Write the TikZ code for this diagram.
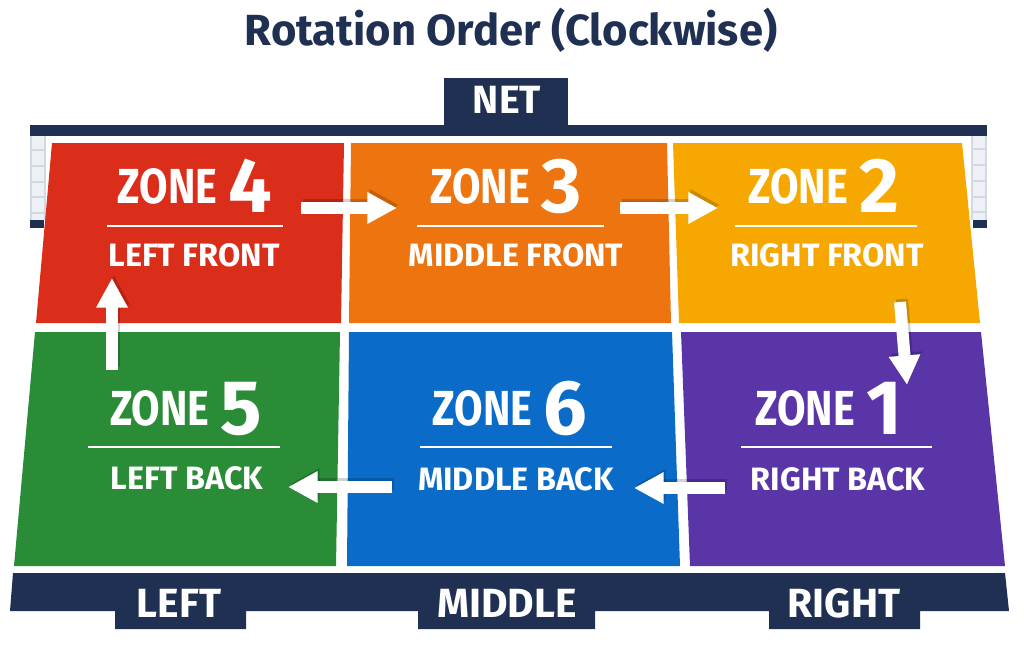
\documentclass[tikz,border=0pt]{standalone}
\usepackage{fontspec}
\setmainfont{Fira Sans}
\newfontfamily\zonefont{Fira Sans}[FakeStretch=0.84]
\usetikzlibrary{arrows.meta, calc}
\definecolor{navy}{HTML}{1F3052}
\definecolor{meshgrey}{HTML}{D3D9E3}
\definecolor{zred}{HTML}{DA2E1B}
\definecolor{zorange}{HTML}{EE7410}
\definecolor{zyellow}{HTML}{F6A800}
\definecolor{zgreen}{HTML}{2A8C37}
\definecolor{zblue}{HTML}{0A6CC8}
\definecolor{zpurple}{HTML}{5935A8}
\tikzset{%
  zonetitle/.style={text=white, font=\bfseries, anchor=base, inner sep=0pt},
  zonename/.style={text=white, font=\bfseries\fontsize{23}{23}\selectfont, anchor=base, inner sep=0pt},
  rule/.style={white, line width=1.1pt},
  rotarrow/.style={white, line width=8.5pt, -{Triangle[length=21pt, width=21pt]}},
  rotshadow/.style={black, opacity=.18, line width=8.5pt, -{Triangle[length=21pt, width=21pt]},
              transform canvas={shift={(2,-3)}}},
  sidelabel/.style={text=white, font=\bfseries\fontsize{29}{29}\selectfont, anchor=base, inner sep=0pt},
}
\newcommand{\zonetext}[1]{{\zonefont\fontsize{35}{35}\selectfont ZONE}\hspace{8pt}\raisebox{-6.5pt}{\fontsize{55}{55}\selectfont #1}}

\begin{document}
\begin{tikzpicture}[x=0.025cm, y=-0.025cm]
    \useasboundingbox (0,0) rectangle (1024,644);

    % title and net
    \node[text=navy, font=\bfseries\fontsize{31}{31}\selectfont, anchor=base] (title) at (511,46) {Rotation Order (Clockwise)};
    \fill[meshgrey!40] (30,136) rectangle (45,220);
    \fill[meshgrey!40] (972,136) rectangle (987,220);
    \draw[meshgrey, line width=1pt] (31,136) -- (31,220) (45,136) -- (45,220)
        (31,150) -- (45,150) (31,166) -- (45,166) (31,182) -- (45,182) (31,197) -- (45,197) (31,213) -- (45,213)
        (972,136) -- (972,220) (986,136) -- (986,220)
        (972,149) -- (986,149) (972,165) -- (986,165) (972,181) -- (986,181) (972,197) -- (986,197) (972,212) -- (986,212);
    \fill[navy] (30,220) rectangle (44,228);
    \fill[navy] (973,220) rectangle (987,228);
    \fill[navy] (30,125) rectangle (987,136);
    \fill[navy] (444,78) rectangle (568,126);
    \node[text=white, font=\bfseries\fontsize{28}{28}\selectfont, inner sep=0pt] (net) at (507,100) {NET};

    % front row
    \fill[zred] (52,143) -- (344,143) -- (341,323) -- (36,323) -- cycle;
    \fill[zorange] (351,143) -- (667,143) -- (671,323) -- (349,323) -- cycle;
    \fill[zyellow] (673,143) -- (962,143) -- (980,323) -- (679,323) -- cycle;
    % back row
    \fill[zgreen] (35,332) -- (340,332) -- (336,566) -- (14,566) -- cycle;
    \fill[zblue] (349,332) -- (672,332) -- (680,566) -- (347,566) -- cycle;
    \fill[zpurple] (681,332) -- (981,332) -- (1005,566) -- (690,566) -- cycle;

    % zone texts
    \node[zonetitle] (z4) at (195,203) {\zonetext{4}};
    \node[zonetitle] (z3) at (506,203) {\zonetext{3}};
    \node[zonetitle] (z2) at (824,203) {\zonetext{2}};
    \node[zonetitle] (z5) at (186,425) {\zonetext{5}};
    \node[zonetitle] (z6) at (510,425) {\zonetext{6}};
    \node[zonetitle] (z1) at (829,425) {\zonetext{1}};

    \draw[rule] (107,226) -- (283,226);
    \draw[rule] (417,226) -- (604,226);
    \draw[rule] (735,226) -- (917,226);
    \draw[rule] (88,447) -- (280,447);
    \draw[rule] (420,447) -- (612,447);
    \draw[rule] (741,447) -- (932,447);

    \node[zonename] (n4) at (194,266) {LEFT FRONT};
    \node[zonename] (n3) at (516,266) {MIDDLE FRONT};
    \node[zonename] (n2) at (827,266) {RIGHT FRONT};
    \node[zonename] (n5) at (187,489) {LEFT BACK};
    \node[zonename] (n6) at (516,490) {MIDDLE BACK};
    \node[zonename] (n1) at (838,490) {RIGHT BACK};

    % rotation arrows
    \coordinate (a4s) at (301,208);
    \coordinate (a4e) at (397,208);
    \coordinate (a3s) at (620,208);
    \coordinate (a3e) at (718,208);
    \coordinate (a2s) at (900,302);
    \coordinate (a2e) at (907,385);
    \coordinate (a1s) at (725,488);
    \coordinate (a1e) at (634,488);
    \coordinate (a6s) at (392,487);
    \coordinate (a6e) at (288,487);
    \coordinate (a5s) at (112,370);
    \coordinate (a5e) at (112,278);

    \draw[rotshadow] (a4s) -- (a4e);
    \draw[rotshadow] (a3s) -- (a3e);
    \draw[rotshadow] (a2s) -- (a2e);
    \draw[rotshadow] (a1s) -- (a1e);
    \draw[rotshadow] (a6s) -- (a6e);
    \draw[rotshadow] (a5s) -- (a5e);
    \draw[rotarrow] (a4s) -- (a4e);
    \draw[rotarrow] (a3s) -- (a3e);
    \draw[rotarrow] (a2s) -- (a2e);
    \draw[rotarrow] (a1s) -- (a1e);
    \draw[rotarrow] (a6s) -- (a6e);
    \draw[rotarrow] (a5s) -- (a5e);

    % side labels
    \fill[navy] (13,573) -- (1005,573) -- (1009,611) -- (920,611) -- (920,629) -- (769,629) -- (769,611)
        -- (595,611) -- (595,629) -- (418,629) -- (418,611) -- (246,611) -- (246,629) -- (115,629)
        -- (115,611) -- (10,611) -- cycle;
    \node[sidelabel] (left) at (179,617) {LEFT};
    \node[sidelabel] (middle) at (507,617) {MIDDLE};
    \node[sidelabel] (right) at (844,617) {RIGHT};
\end{tikzpicture}
\end{document}
